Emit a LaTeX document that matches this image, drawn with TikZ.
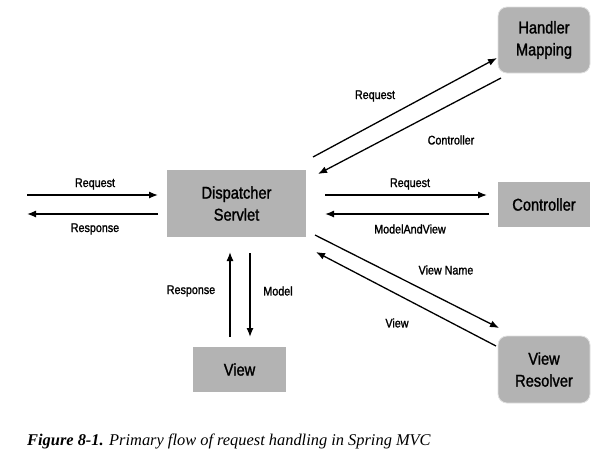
\documentclass[tikz,border=0pt]{standalone}
\usepackage{fontspec}
\setmainfont{Liberation Serif}
\newfontfamily\narrowfont[FakeStretch=0.86,FakeBold=1.4]{Liberation Sans}
\usetikzlibrary{arrows.meta}
\definecolor{boxgray}{RGB}{179,179,179}
\tikzset{
  box/.style={fill=boxgray, draw=none, inner sep=0pt, align=center,
    font=\narrowfont\fontsize{17}{22}\selectfont},
  rbox/.style={box, rounded corners=9pt, draw=black!12, line width=0.8pt},
  lbl/.style={font=\narrowfont\fontsize{12.5}{14}\selectfont, inner sep=0pt},
  arr/.style={line width=1.3pt, -{Latex[length=9pt,width=7pt]}},
}
\begin{document}
\begin{tikzpicture}[x=1pt,y=-1pt]
\useasboundingbox (0,0) rectangle (602,459);
% boxes
\node[box, minimum width=139pt, minimum height=67pt] (ds) at (236.5,203.5) {Dispatcher\\Servlet};
\node[rbox, minimum width=92pt, minimum height=66pt] (hm) at (544,40) {Handler\\Mapping};
\node[box, minimum width=92pt, minimum height=45pt] (ct) at (544,204.5) {Controller};
\node[rbox, minimum width=92pt, minimum height=67pt] (vr) at (544,369.5) {View\\Resolver};
\node[box, minimum width=93pt, minimum height=45pt] (vw) at (239.5,369.5) {View};
% coordinates
\coordinate (inL) at (27,195);
\coordinate (inR) at (158,195);
\coordinate (outR) at (158,214);
\coordinate (outL) at (27,214);
\coordinate (rqA) at (325,195);
\coordinate (rqB) at (487,195);
\coordinate (mvA) at (489,214);
\coordinate (mvB) at (325,214);
\coordinate (hmA) at (313,157);
\coordinate (hmB) at (497,58);
\coordinate (hcA) at (501,78);
\coordinate (hcB) at (318,174);
\coordinate (vnA) at (315,235);
\coordinate (vnB) at (499,328);
\coordinate (vvA) at (496,346);
\coordinate (vvB) at (316,252);
\coordinate (rsA) at (230,337);
\coordinate (rsB) at (230,252);
\coordinate (mdA) at (250,253);
\coordinate (mdB) at (250,337);
% arrows
\draw[arr] (inL) -- (inR);
\draw[arr] (outR) -- (outL);
\draw[arr] (rqA) -- (rqB);
\draw[arr] (mvA) -- (mvB);
\draw[arr] (hmA) -- (hmB);
\draw[arr] (hcA) -- (hcB);
\draw[arr] (vnA) -- (vnB);
\draw[arr] (vvA) -- (vvB);
\draw[arr] (rsA) -- (rsB);
\draw[arr] (mdA) -- (mdB);
% labels
\node[lbl] (l1) at (95,184) {Request};
\node[lbl] (l2) at (95,229) {Response};
\node[lbl] (l3) at (375,96) {Request};
\node[lbl] (l4) at (451,140) {Controller};
\node[lbl] (l5) at (410,184) {Request};
\node[lbl] (l6) at (410,229) {ModelAndView};
\node[lbl] (l7) at (446,270) {View Name};
\node[lbl] (l8) at (397,323) {View};
\node[lbl] (l9) at (191,291) {Response};
\node[lbl] (l10) at (278,291) {Model};
% caption
\node[anchor=base west, inner sep=0pt, font=\fontsize{16.4}{18}\selectfont] (cap) at (27,445)
  {\textbf{\textit{Figure 8-1.}} \textit{Primary flow of request handling in Spring MVC}};
\end{tikzpicture}
\end{document}
